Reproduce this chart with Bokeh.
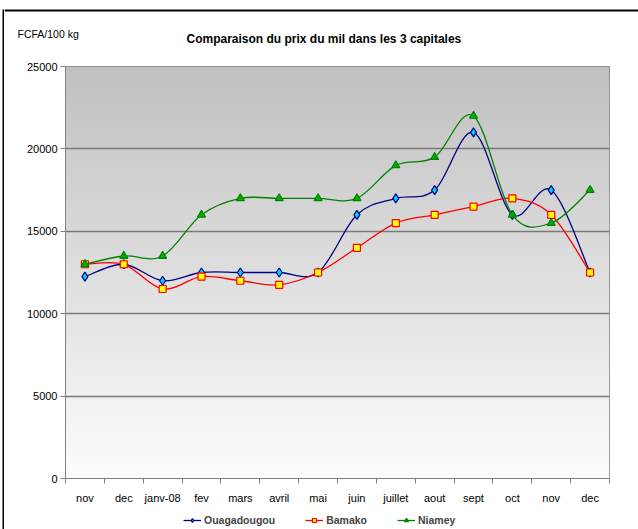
import numpy as np
from bokeh.plotting import figure
from bokeh.layouts import column, row
from bokeh.models import ColumnDataSource, Range1d, FixedTicker, Legend, LegendItem, Label, BoxAnnotation
from bokeh.embed import file_html
from bokeh.resources import INLINE

months = ["nov", "dec", "janv-08", "fev", "mars", "avril", "mai", "juin",
          "juillet", "aout", "sept", "oct", "nov", "dec"]
ouaga = [12250, 13000, 12000, 12500, 12500, 12500, 12500, 16000, 17000, 17500, 21000, 16000, 17500, 12500]
bamako = [13000, 13000, 11500, 12250, 12000, 11750, 12500, 14000, 15500, 16000, 16500, 17000, 16000, 12500]
niamey = [13000, 13500, 13500, 16000, 17000, 17000, 17000, 17000, 19000, 19500, 22000, 16000, 15500, 17500]
y_ticks = [0, 5000, 10000, 15000, 20000, 25000]
title_text = "Comparaison du prix du mil dans les 3 capitales"
unit_text = "FCFA/100 kg"

FONT = "Liberation Sans"


def smooth_source(ys):
    """Catmull-Rom style bezier segments (Excel 'smoothed line')."""
    n = len(ys)
    xs = list(range(n))
    d = dict(x0=[], y0=[], x1=[], y1=[], cx0=[], cy0=[], cx1=[], cy1=[])
    for i in range(n - 1):
        i0 = max(i - 1, 0)
        i3 = min(i + 2, n - 1)
        d["x0"].append(xs[i]); d["y0"].append(ys[i])
        d["x1"].append(xs[i + 1]); d["y1"].append(ys[i + 1])
        d["cx0"].append(xs[i] + (xs[i + 1] - xs[i0]) / 6)
        d["cy0"].append(ys[i] + (ys[i + 1] - ys[i0]) / 6)
        d["cx1"].append(xs[i + 1] - (xs[i3] - xs[i]) / 6)
        d["cy1"].append(ys[i + 1] - (ys[i3] - ys[i]) / 6)
    return ColumnDataSource(d)


def bare_figure(w, h, **kw):
    f = figure(width=w, height=h, output_backend="svg", toolbar_location=None, title=None,
               x_axis_location=None, y_axis_location=None, min_border=0, frame_align=False, **kw)
    f.xgrid.visible = False
    f.ygrid.visible = False
    f.outline_line_color = None
    return f


n = len(months)
x_start, x_end = -0.5, n - 0.5
W = 634
HEAD_H, MAIN_H, LEG_H = 56, 451, 22

# ---------------- header (title + unit label + top border) ----------------
head = bare_figure(W, HEAD_H, x_range=Range1d(0, W), y_range=Range1d(HEAD_H, 0))
head.background_fill_color = "white"
head.border_fill_color = "white"
head.add_layout(BoxAnnotation(left=0, right=W, top=9, bottom=11, fill_color="black", fill_alpha=1,
                              line_color=None))
head.add_layout(Label(x=13, y=33, text=unit_text, text_font=FONT, text_font_size="10.5px",
                      text_baseline="middle", text_color="black"))
head.add_layout(Label(x=182, y=38, text=title_text, text_font=FONT, text_font_size="12px",
                      text_font_style="bold", text_baseline="middle", text_color="black"))

# ---------------- main chart ----------------
p = figure(width=W, height=MAIN_H, output_backend="svg", toolbar_location=None, title=None,
           x_range=Range1d(x_start, x_end), y_range=Range1d(y_ticks[0], y_ticks[-1]),
           min_border_left=61, min_border_right=29, min_border_top=10, min_border_bottom=29,
           frame_align=False)
p.background_fill_color = "white"
p.border_fill_color = "white"
p.outline_line_color = "#808080"
p.outline_line_width = 1

rows = 256
img = np.empty((rows, 1), dtype=np.uint32)
view = img.view(dtype=np.uint8).reshape((rows, 1, 4))
for r in range(rows):
    t = r / (rows - 1)
    g = int(round(252 - t * (252 - 192)))
    view[r, 0, :] = [g, g, g, 255]
p.image_rgba(image=[img], x=x_start, y=y_ticks[0], dw=n, dh=y_ticks[-1] - y_ticks[0], level="image")

p.xgrid.visible = False
p.ygrid.grid_line_color = "#7a7a7a"
p.ygrid.grid_line_width = 1.5
p.ygrid.ticker = FixedTicker(ticks=y_ticks)

xa = p.xaxis[0]
xa.ticker = FixedTicker(ticks=list(range(n)), minor_ticks=[i - 0.5 for i in range(n + 1)])
xa.major_label_overrides = {i: m for i, m in enumerate(months)}
xa.major_tick_out = 0
xa.major_tick_in = 0
xa.minor_tick_out = 5
xa.minor_tick_in = 0
xa.minor_tick_line_color = "#808080"
xa.axis_line_color = "#808080"
xa.major_label_standoff = 8
xa.major_label_text_font = FONT
xa.major_label_text_font_size = "11px"
xa.major_label_text_color = "black"

ya = p.yaxis[0]
ya.ticker = FixedTicker(ticks=y_ticks)
ya.major_tick_out = 5
ya.major_tick_in = 0
ya.minor_tick_out = 0
ya.major_tick_line_color = "#808080"
ya.axis_line_color = "#808080"
ya.major_label_standoff = 3
ya.major_label_text_font = FONT
ya.major_label_text_font_size = "11px"
ya.major_label_text_color = "black"

xs = list(range(n))
series = [
    ("Ouagadougou", ouaga, "#000080", "diamond", 9, "#00ccff", "#000080"),
    ("Bamako", bamako, "#ff0000", "square", 7, "#ffff00", "#ff0000"),
    ("Niamey", niamey, "#008000", "triangle", 8, "#00b000", "#008000"),
]

# ---------------- legend strip ----------------
leg = bare_figure(W, LEG_H, x_range=Range1d(0, W), y_range=Range1d(LEG_H, 0))
leg.background_fill_color = "white"
leg.border_fill_color = "white"

items = []
for name, ys, lc, mk, sz, fc, oc in series:
    p.bezier(x0="x0", y0="y0", x1="x1", y1="y1", cx0="cx0", cy0="cy0", cx1="cx1", cy1="cy1",
             source=smooth_source(ys), line_color=lc, line_width=1.3)
    p.scatter(xs, ys, marker=mk, size=sz, fill_color=fc, line_color=oc, line_width=1.2)
    # legend-only renderers (their data lie outside this strip's ranges, so only the key shows)
    lr = leg.line(xs, ys, line_color=lc, line_width=1.3)
    mr = leg.scatter(xs, ys, marker=mk, size=sz - 1, fill_color=fc, line_color=oc, line_width=1.2)
    items.append(LegendItem(label=name, renderers=[lr, mr]))

legend = Legend(items=items, orientation="horizontal", location=(179, 3),
                label_text_font=FONT, label_text_font_size="10.5px", label_text_font_style="bold",
                glyph_width=18, glyph_height=10, label_standoff=3, spacing=30,
                padding=0, margin=0, border_line_color=None, background_fill_alpha=0)
leg.add_layout(legend)

# ---------------- left black border ----------------
strip = bare_figure(2, HEAD_H + MAIN_H + LEG_H - 9, margin=(9, 0, 0, 2))
strip.background_fill_color = "black"
strip.border_fill_color = "black"

layout = row(strip, column(head, p, leg, spacing=0), spacing=0)

open("out.html", "w").write(file_html(layout, INLINE))
